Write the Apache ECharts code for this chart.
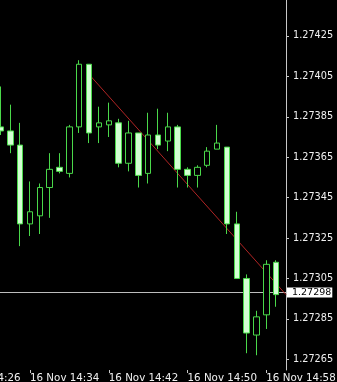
<!DOCTYPE html>
<html>
<head>
<meta charset="utf-8">
<script src="https://cdn.jsdelivr.net/npm/echarts@6/dist/echarts.min.js"></script>
<style>
html,body{margin:0;padding:0;background:#000;}
#chart{width:337px;height:382px;}
</style>
</head>
<body>
<div id="chart"></div>
<script>
// time categories (M1)
var times = ['16 Nov 14:26','16 Nov 14:27','16 Nov 14:28','16 Nov 14:29','16 Nov 14:30',
  '16 Nov 14:31','16 Nov 14:32','16 Nov 14:33','16 Nov 14:34','16 Nov 14:35','16 Nov 14:36',
  '16 Nov 14:37','16 Nov 14:38','16 Nov 14:39','16 Nov 14:40','16 Nov 14:41','16 Nov 14:42',
  '16 Nov 14:43','16 Nov 14:44','16 Nov 14:45','16 Nov 14:46','16 Nov 14:47','16 Nov 14:48',
  '16 Nov 14:49','16 Nov 14:50','16 Nov 14:51','16 Nov 14:52','16 Nov 14:53','16 Nov 14:54',
  '16 Nov 14:55','16 Nov 14:56','16 Nov 14:57','16 Nov 14:58','16 Nov 14:59','16 Nov 15:00'];
// OHLC per minute (null = no bar on screen)
var opens  = [null,null,null,null,null,
  1.27380,1.27378,1.27371,1.27332,1.27336,1.27350,1.27360,1.27357,1.27380,1.27411,
  1.27380,1.27381,1.27382,1.27362,1.27377,1.27357,1.27376,1.27373,1.27380,1.27359,
  1.27356,1.27361,1.27369,1.27370,1.27332,1.27305,1.27277,1.27287,1.27313,null];
var closes = [null,null,null,null,null,
  1.27378,1.27371,1.27332,1.27338,1.27350,1.27359,1.27358,1.27380,1.27411,1.27377,
  1.27382,1.27383,1.27362,1.27377,1.27356,1.27376,1.27371,1.27380,1.27359,1.27356,
  1.27360,1.27368,1.27372,1.27332,1.27305,1.27278,1.27286,1.27312,1.27297,null];
var lows   = [null,null,null,null,null,
  1.27376,1.27367,1.27321,1.27326,1.27327,1.27335,1.27357,1.27355,1.27377,1.27372,
  1.27372,1.27375,1.27360,1.27358,1.27350,1.27352,1.27369,1.27368,1.27350,1.27350,
  1.27350,1.27360,1.27369,1.27327,1.27305,1.27268,1.27267,1.27280,1.27291,null];
var highs  = [null,null,null,null,null,
  1.27400,1.27391,1.27382,1.27353,1.27352,1.27367,1.27367,1.27381,1.27413,1.27411,
  1.27390,1.27392,1.27384,1.27383,1.27377,1.27387,1.27389,1.27387,1.27381,1.27360,
  1.27361,1.27370,1.27381,1.27370,1.27338,1.27307,1.27289,1.27314,1.27314,null];
// price axis labels
var priceTicks = [1.27265,1.27285,1.27305,1.27325,1.27345,1.27365,1.27385,1.27405,1.27425];
// current bid line
var bidPrice = 1.27298;
// trend line end points
var trendStart = ['16 Nov 14:40', 1.27406];
var trendEnd = ['16 Nov 15:00', 1.27297];

var ohlc = times.map(function(t, i){
  return opens[i] == null ? '-' : [opens[i], closes[i], lows[i], highs[i]];
});

var chart = echarts.init(document.getElementById('chart'), null, {renderer:'canvas'});
chart.setOption({
  backgroundColor: '#000',
  animation: false,
  grid: {left: -48.77, right: 51, top: 0, bottom: 12, containLabel: false, outerBoundsMode: 'none'},
  xAxis: {
    type: 'category',
    data: times,
    boundaryGap: false,
    axisLine: {show: false},
    axisTick: {show: true, interval: 7, length: 3, lineStyle: {color: '#c8c8c8'}},
    axisLabel: {interval: 7, align: 'left', margin: 3, color: '#f0f0f0',
      fontFamily: 'DejaVu Sans', fontSize: 10.3},
    splitLine: {show: false}
  },
  yAxis: {
    type: 'value',
    position: 'right',
    min: 1.272597,
    max: 1.274428,
    scale: true,
    axisLine: {show: true, lineStyle: {color: '#c8c8c8', width: 1}},
    axisTick: {show: true, customValues: priceTicks, length: 3, lineStyle: {color: '#c8c8c8'}},
    axisLabel: {customValues: priceTicks, margin: 7, color: '#f0f0f0',
      fontFamily: 'DejaVu Sans', fontSize: 9.7,
      formatter: function(v){ return v.toFixed(5); }},
    splitLine: {show: false}
  },
  series: [{
    type: 'candlestick',
    data: ohlc,
    barWidth: 6,
    z: 3,
    itemStyle: {
      color: '#000000', borderColor: '#4ad84a',
      color0: '#d2ffd2', borderColor0: '#4ad84a', borderWidth: 1
    },
    markLine: {
      z: 1,
      silent: true,
      precision: 5,
      symbol: ['none','none'],
      animation: false,
      data: [
        {yAxis: bidPrice,
          lineStyle: {color: '#bdbdbd', width: 1, type: 'solid'},
          label: {show: true, position: 'end', distance: 1, formatter: '1.27298',
            backgroundColor: '#ffffff', color: '#000000', padding: [1, 1, 0, 5],
            fontFamily: 'DejaVu Sans', fontSize: 9.5, lineHeight: 9}},
        [{coord: trendStart, lineStyle: {color: '#b02424', width: 1, type: 'solid'}, label: {show: false}},
         {coord: trendEnd}]
      ]
    }
  }]
});
</script>
</body>
</html>
